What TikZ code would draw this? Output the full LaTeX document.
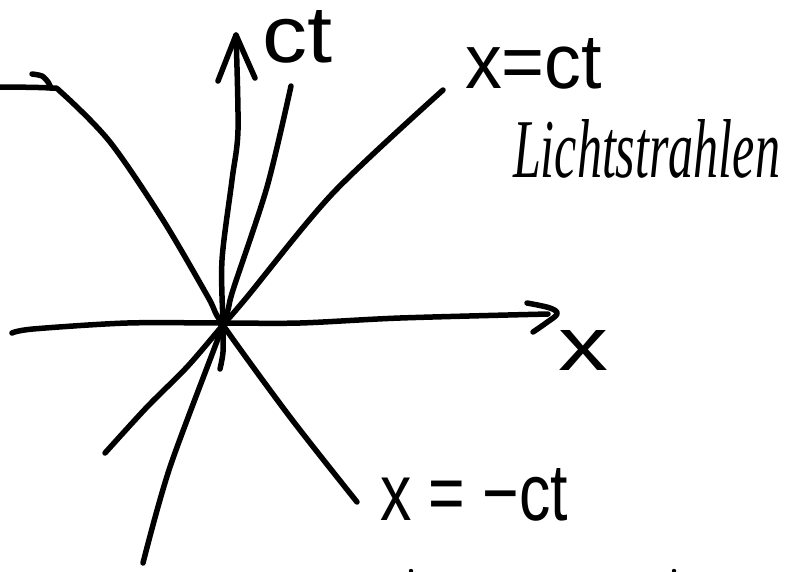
\documentclass[tikz,border=0pt]{standalone}
\usepackage{fontspec}
\setmainfont{Liberation Sans}
\newfontfamily\handfont{Liberation Serif}
\usepackage{graphicx}
\begin{document}
\begin{tikzpicture}[x=1pt,y=-1pt,
  pen/.style={line width=5.5pt, line cap=round, line join=round, black},
  lab/.style={inner sep=0pt, outer sep=0pt, anchor=base west}]
\useasboundingbox (0,0) rectangle (799,571);
\fill[white] (0,0) rectangle (799,571);
\coordinate (O) at (223,325);
% ct axis
\draw[pen] plot[smooth, tension=0.5] coordinates {(220,369) (223,352) (223,325) (222,260) (232,180) (238,130) (236,35)};
\draw[pen] (218,81) -- (236,35) -- (247,60) -- (255,78);
% world line
\draw[pen] plot[smooth, tension=0.5] coordinates {(291,86) (267,187) (233,290) (223,325) (170,467) (143,563)};
% x = ct
\draw[pen] plot[smooth, tension=0.5] coordinates {(443,90) (333,193) (247,297) (223,325) (187,367) (147,407) (105,453)};
% x = -ct with hook
\draw[pen] plot[smooth, tension=0.5] coordinates {(32,74) (42,76) (48,82) (51,88)};
\draw[pen] plot[smooth, tension=0.5] coordinates {(0,87) (50,88) (62,93) (110,142) (163,220) (208,297) (223,325) (290,417) (357,502)};
% x axis
\draw[pen] plot[smooth, tension=0.5] coordinates {(12,333) (33,329) (127,323) (223,323) (300,323) (400,318) (548,314)};
\draw[pen] plot[smooth, tension=0.6] coordinates {(527,303) (550,308) (557,314) (546,323) (533,332)};
% bottom marks
\fill (411,571) circle (2.2);
\fill (674,571) circle (2.2);
% labels
\node[lab] (ctlab) at (262,62) {\resizebox{70pt}{52pt}{ct}};
\node[lab] (xctlab) at (465,88) {\resizebox{137pt}{50pt}{x=ct}};
\node[lab] (licht) at (513,177) {\resizebox{267pt}{58pt}{\handfont\itshape Lichtstrahlen}};
\node[lab] (xlab) at (558,370) {\resizebox{50pt}{40pt}{x}};
\node[lab] (xmctlab) at (380,520) {\resizebox{188pt}{52pt}{x = −ct}};
\end{tikzpicture}
\end{document}
